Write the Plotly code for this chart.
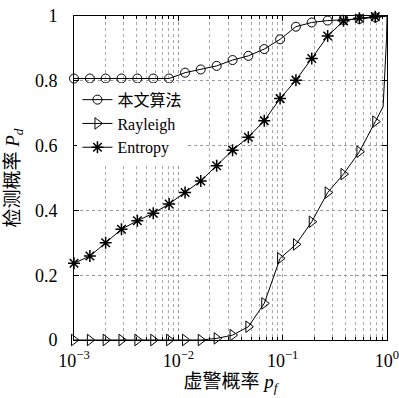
import plotly.graph_objects as go

# false-alarm probability at marker positions
pf = [0.001, 0.00142, 0.00201, 0.00285, 0.00405, 0.00575, 0.00816, 0.0116,
      0.0164, 0.0233, 0.0331, 0.0469, 0.0666, 0.0945, 0.134, 0.190,
      0.270, 0.383, 0.544, 0.772]

pd_proposed = [0.807, 0.807, 0.807, 0.807, 0.807, 0.807, 0.807, 0.825,
               0.835, 0.846, 0.864, 0.877, 0.898, 0.928, 0.967, 0.980,
               0.986, 0.988, 0.991, 0.996]
pd_rayleigh = [0.0, 0.0, 0.0, 0.0, 0.0, 0.0, 0.0, 0.0,
               0.0, 0.005, 0.015, 0.041, 0.113, 0.252, 0.295, 0.365,
               0.455, 0.512, 0.581, 0.674]
pd_entropy = [0.237, 0.259, 0.300, 0.342, 0.368, 0.391, 0.420, 0.455,
              0.491, 0.538, 0.586, 0.626, 0.677, 0.745, 0.802, 0.869,
              0.938, 0.985, 0.993, 0.998]

# curve tails beyond the last marker (no markers drawn there)
tail_pf_proposed = [1.0]
tail_pd_proposed = [1.0]
tail_pf_rayleigh = [0.918, 0.99, 1.0]
tail_pd_rayleigh = [0.72, 0.93, 1.0]
tail_pf_entropy = [1.0]
tail_pd_entropy = [1.0]

names = ["本文算法", "Rayleigh", "Entropy"]
symbols = ["circle-open", "triangle-right-open", "asterisk-open"]
sizes = [9, 10, 10]
mlw = [1, 1, 1.5]

series = [
    (pd_proposed, tail_pf_proposed, tail_pd_proposed),
    (pd_rayleigh, tail_pf_rayleigh, tail_pd_rayleigh),
    (pd_entropy, tail_pf_entropy, tail_pd_entropy),
]

fig = go.Figure()
for (vals, tpf, tpd), name, sym, sz, lw in zip(series, names, symbols, sizes, mlw):
    fig.add_trace(go.Scatter(
        x=[pf[-1]] + tpf, y=[vals[-1]] + tpd, mode="lines",
        line=dict(color="black", width=1), showlegend=False,
        cliponaxis=False, hoverinfo="skip"))
    fig.add_trace(go.Scatter(
        x=pf, y=vals, mode="lines+markers", name=name,
        line=dict(color="black", width=1),
        marker=dict(symbol=sym, size=sz, color="black",
                    line=dict(color="black", width=lw)),
        cliponaxis=False))

font_family = "'Liberation Serif', 'Noto Sans CJK SC', serif"

fig.update_layout(
    template="none",
    width=399, height=398,
    margin=dict(l=74, r=12, t=16, b=58, autoexpand=False),
    paper_bgcolor="white", plot_bgcolor="white",
    font=dict(family=font_family, size=18, color="black"),
    showlegend=True,
    legend=dict(x=0.011, y=0.794, xanchor="left", yanchor="top",
                bgcolor="white", borderwidth=0,
                font=dict(size=16, family=font_family)),
)

fig.update_xaxes(
    type="log", range=[-3, 0], automargin=False,
    tickvals=[0.001, 0.01, 0.1, 1],
    ticktext=["10<sup>−3</sup>", "10<sup>−2</sup>", "10<sup>−1</sup>", "10<sup>0</sup>"],
    ticklabeloverflow="allow",
    ticks="inside", ticklen=5, tickcolor="black",
    showline=True, linecolor="black", linewidth=1, mirror="ticks",
    showgrid=True, gridcolor="#999", griddash="dot", gridwidth=1,
    minor=dict(tickvals=[m * 10 ** e for e in (-3, -2, -1) for m in range(2, 10)],
               showgrid=True, gridcolor="#aaa", griddash="dot", gridwidth=1,
               ticks="inside", ticklen=3, tickcolor="black"),
    zeroline=False, ticklabelstandoff=4,
    title=dict(text="虚警概率 <i>p<sub>f</sub></i>", standoff=4,
               font=dict(size=19)),
)
fig.update_yaxes(
    range=[0, 1], automargin=False,
    tickvals=[0, 0.2, 0.4, 0.6, 0.8, 1],
    ticktext=["0", "0.2", "0.4", "0.6", "0.8", "1"],
    ticklabeloverflow="allow",
    ticks="inside", ticklen=5, tickcolor="black",
    showline=True, linecolor="black", linewidth=1, mirror="ticks",
    showgrid=True, gridcolor="#999", griddash="dot", gridwidth=1,
    zeroline=False, ticklabelstandoff=12,
    title=dict(text="检测概率 <i>P<sub>d</sub></i>", standoff=10,
               font=dict(size=19)),
)

fig.write_html("out.html", config={"displayModeBar": False},
               post_script="document.body.style.margin='0';")
